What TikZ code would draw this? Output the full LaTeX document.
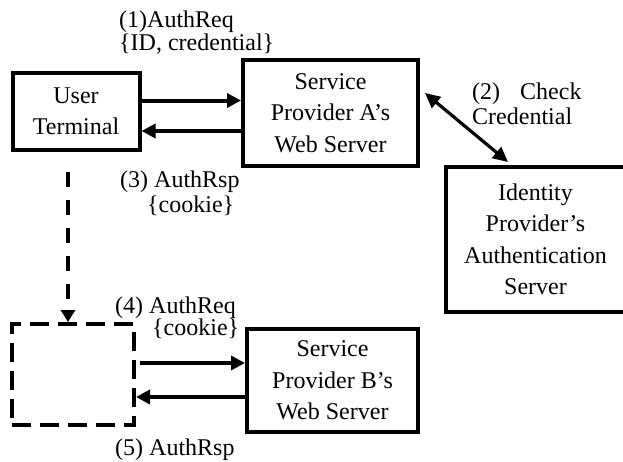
\documentclass[tikz,border=0pt]{standalone}
\usepackage{fontspec}
\setmainfont{Liberation Serif}
\usetikzlibrary{arrows.meta}
\tikzset{
  box/.style={draw, line width=4pt, align=center, inner sep=0pt,
    font=\fontsize{24}{31.5}\selectfont},
  dbox/.style={draw, line width=4pt, dash pattern=on 19pt off 9pt},
  msg/.style={line width=4pt, -{Triangle[length=14pt,width=14pt]}},
  twoway/.style={line width=3.2pt,
    {Triangle[length=15pt,width=14pt]}-{Triangle[length=15pt,width=14pt]}},
  move/.style={line width=4pt, dash pattern=on 15pt off 13pt,
    -{Triangle[length=12pt,width=14pt]}},
  lbl/.style={anchor=base west, inner sep=0pt, font=\fontsize{24}{24}\selectfont},
}
\begin{document}
\begin{tikzpicture}[x=1pt,y=-1pt]
\useasboundingbox (0,0) rectangle (623,461);

% boxes
\node[box, minimum width=127pt, minimum height=77pt]  (ut)  at (76,111.5)   {User\\Terminal};
\node[box, minimum width=175pt, minimum height=106pt] (spa) at (330.5,113)  {Service\\Provider A’s\\Web Server};
\node[box, minimum width=179pt, minimum height=145pt] (idp) at (535.5,239.5) {Identity\\Provider’s\\Authentication\\Server};
\node[dbox, minimum width=122pt, minimum height=101pt] (ut2) at (73,374.5) {};
\node[box, minimum width=171pt, minimum height=103pt] (spb) at (332.5,380.5) {Service\\Provider B’s\\Web Server};

% levels of the message arrows
\coordinate (r1) at (0,100.5);
\coordinate (r3) at (0,131);
\coordinate (r4) at (0,363);
\coordinate (r5) at (0,397);
\coordinate (c2a) at (425,93);
\coordinate (c2b) at (508,162);
\coordinate (mv) at (68,172);

% connectors
\draw[msg] (ut.east |- r1) -- (spa.west |- r1);
\draw[msg] (spa.west |- r3) -- (ut.east |- r3);
\draw[twoway] (c2a) -- (c2b);
\draw[move] (mv) -- (mv |- ut2.north);
\draw[msg, shorten <=4pt] (ut2.east |- r4) -- (spb.west |- r4);
\draw[msg] (spb.west |- r5) -- (ut2.east |- r5);

% message labels
\node[lbl] (l1a) at (119,27)  {(1)AuthReq};
\node[lbl] (l1b) at (119,50)  {\{ID, credential\}};
\node[lbl] (l2a) at (472,99)  {(2)\hspace{20pt}Check};
\node[lbl] (l2b) at (472,124) {Credential};
\node[lbl] (l3a) at (120,187) {(3) AuthRsp};
\node[lbl] (l3b) at (147,212) {\{cookie\}};
\node[lbl] (l4a) at (115,313) {(4) AuthReq};
\node[lbl] (l4b) at (152,335) {\{cookie\}};
\node[lbl] (l5a) at (115,455) {(5) AuthRsp};
\end{tikzpicture}
\end{document}
